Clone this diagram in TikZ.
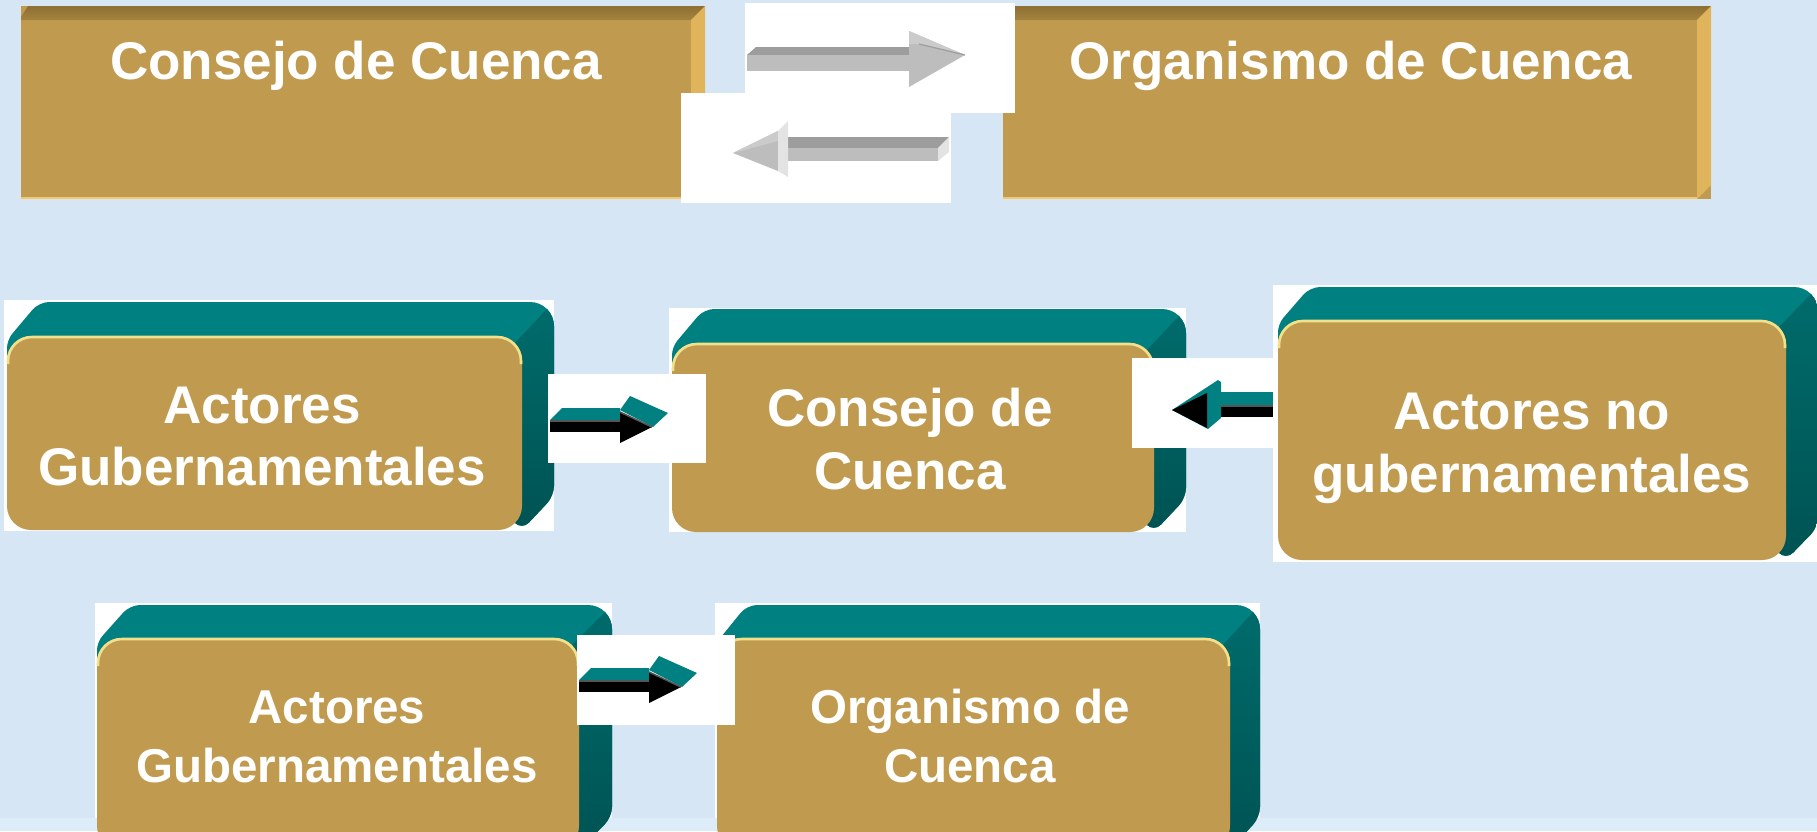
\documentclass[tikz,border=0pt]{standalone}
\usepackage{fontspec}
\setmainfont{Liberation Sans}
\definecolor{bgblue}{HTML}{D6E6F5}
\definecolor{bgstrip}{HTML}{DCEDF9}
\definecolor{gold}{HTML}{C09B4F}
\definecolor{goldtopa}{HTML}{8E6F34}
\definecolor{goldtopb}{HTML}{A5843F}
\definecolor{goldright}{HTML}{E0B45A}
\definecolor{goldbottom}{HTML}{F3C96E}
\definecolor{tealtop}{HTML}{008080}
\definecolor{tealsidea}{HTML}{006B6B}
\definecolor{tealsideb}{HTML}{005252}
\definecolor{faceedge}{HTML}{F2E08A}
\definecolor{edgegrey}{HTML}{555555}
\definecolor{gdark}{HTML}{9D9D9D}
\definecolor{gmid}{HTML}{BDBDBD}
\definecolor{gsoft}{HTML}{CBCBCB}
\definecolor{glight}{HTML}{E3E3E3}
\tikzset{
  topface/.style={fill=gold, inner sep=0pt, draw=none},
  facebox/.style={fill=gold, inner sep=0pt, draw=none, rounded corners=12pt},
  whitepatch/.style={fill=white},
  lbl/.style={text=white, inner sep=0pt, anchor=base, font=\bfseries\fontsize{26.5}{31}\selectfont},
  lblsmall/.style={text=white, inner sep=0pt, anchor=base, font=\bfseries\fontsize{23.75}{29}\selectfont}
}
% flat bevelled box: name, x1, y1, x2, y2
\newcommand{\topbox}[5]{%
  \pgfmathsetmacro{\bxw}{(#4-#2)*0.5}\pgfmathsetmacro{\bxh}{(#5-#3)*0.5}%
  \node[topface, minimum width=\bxw pt, minimum height=\bxh pt] (#1) at ({(#2+#4)/2},{(#3+#5)/2}) {};
  \shade[top color=goldtopa, bottom color=goldtopb] (#2+7,#3) -- (#4,#3) -- (#4-14,#3+14) -- (#2,#3+14) -- (#2,#3+11) -- cycle;
  \fill[goldright] (#4-14,#3+14) -- (#4,#3) -- (#4,#5-14) -- (#4-14,#5) -- cycle;
  \draw[goldbottom, line width=1pt] (#2,#5-1) -- (#4-14,#5-1);
}
% extruded rounded box: name, fx1, fy1, fx2, fy2, dx, dy
\newcommand{\tdbox}[7]{%
  \begin{scope}
    \clip (#2+30,#3+40) [sharp corners] -- (#2,#3+40) [rounded corners=4pt] -- (#2,#3+4) [rounded corners=5pt] -- (#2+#6,#3-#7) [rounded corners=12pt] -- (#4+#6,#3-#7) [rounded corners=5pt] -- (#4+#6,#5-#7) [rounded corners=5pt] -- (#4,#5) [sharp corners] -- (#4-30,#5-30) -- cycle;
    \fill[tealtop] (#2-5,#3-#7-5) rectangle (#4+#6+5,#5+5);
    \shade[top color=tealsidea, bottom color=tealsideb] (#4-7,#3+7) -- (#4+#6-7,#3-#7+7) -- (#4+#6+5,#3-#7+7) -- (#4+#6+5,#5+5) -- (#4-7,#5+5) -- cycle;
  \end{scope}
  \pgfmathsetmacro{\bxw}{(#4-#2)*0.5}\pgfmathsetmacro{\bxh}{(#5-#3)*0.5}%
  \node[facebox, minimum width=\bxw pt, minimum height=\bxh pt] (#1) at ({(#2+#4)/2},{(#3+#5)/2}) {};
  \draw[faceedge, line width=1.3pt, rounded corners=12pt] (#2+1,#3+28) -- (#2+1,#3+1) -- (#4-1,#3+1) -- (#4-1,#3+28);
}
% small teal 3D arrow pointing right, origin = bottom-left of shaft
\newcommand{\tealarrowright}{%
  \fill[tealtop] (0,-12) -- (12,-24) -- (70,-24) -- (70,-12) -- cycle;
  \fill[black] (0,-12) rectangle (70,0);
  \draw[edgegrey, line width=1.2pt] (0,-11) -- (70,-11);
  \fill[tealtop] (70,-22) -- (80,-36) -- (118,-19) -- (103,-5) -- cycle;
  \fill[black] (70,-20) -- (70,11) -- (102,-5) -- cycle;
  \draw[edgegrey, line width=0.8pt] (70,-20) -- (102,-5);
}
\begin{document}
\begin{tikzpicture}[x=0.5pt, y=-0.5pt]
\useasboundingbox (0,0) rectangle (1817,831);
\clip (0,0) rectangle (1817,831);
\fill[bgblue] (0,0) rectangle (1817,831);
\fill[bgstrip] (0,818) rectangle (1817,831);

% ---------- top row ----------
\topbox{tl}{21}{6}{705}{199}
\topbox{tr}{1003}{6}{1711}{199}

% upper grey arrow (to the right)
\fill[whitepatch] (745,3) rectangle (1015,113);
\coordinate (ga) at (747,71);
\begin{scope}[shift={(ga)}]
  \fill[gdark] (0,-16) -- (9,-24) -- (162,-24) -- (162,-16) -- cycle;
  \fill[gmid] (0,-16) rectangle (162,0);
  \fill[gmid] (162,-40) -- (162,16) -- (218,-16) -- cycle;
  \fill[gsoft] (162,-40) -- (218,-16) -- (172,-27) -- (162,-27) -- cycle;
  \draw[gdark, line width=0.6pt] (172,-27) -- (218,-16);
\end{scope}

% lower grey arrow (to the left)
\fill[whitepatch] (681,93) rectangle (951,203);
\coordinate (gb) at (949,161);
\begin{scope}[shift={(gb)}]
  \fill[gdark] (-161,-24) -- (0,-24) -- (-11,-13) -- (-161,-13) -- cycle;
  \fill[gmid] (-161,-13) rectangle (-11,0);
  \fill[glight] (-11,-13) -- (0,-24) -- (0,-9) -- (-11,0) -- cycle;
  \fill[gmid] (-216,-8) -- (-171,-30) -- (-171,10) -- cycle;
  \fill[gsoft] (-216,-8) -- (-171,-30) -- (-171,-20) -- cycle;
  \fill[glight] (-171,-30) -- (-161,-40) -- (-161,16) -- (-171,10) -- cycle;
\end{scope}

% ---------- middle row ----------
\fill[whitepatch] (4,300) rectangle (554,531);
\tdbox{ag}{7}{336}{522}{530}{32}{34}
\fill[whitepatch] (669,308) rectangle (1186,532);
\tdbox{cc}{672}{343}{1154}{532}{32}{34}

\fill[whitepatch] (548,374) rectangle (706,463);
\coordinate (ta) at (550,432);
\begin{scope}[shift={(ta)}]\tealarrowright\end{scope}

\fill[whitepatch] (1132,358) rectangle (1273,448);
\coordinate (tb) at (1273,417);
\begin{scope}[shift={(tb)}]
  \fill[tealtop] (-53,-25) rectangle (0,-12);
  \fill[black] (-70,-12) rectangle (0,0);
  \draw[edgegrey, line width=1.2pt] (-70,-11) -- (0,-11);
  \fill[tealtop] (-101,-7) -- (-55,-37) -- (-52,-35) -- (-52,1) -- (-65,12) -- cycle;
  \fill[black] (-101,-7) -- (-66,-24) -- (-66,11) -- cycle;
\end{scope}

\fill[whitepatch] (1273,285) rectangle (1817,562);
\tdbox{ang}{1278}{320}{1786}{560}{32}{33}

% ---------- bottom row ----------
\fill[whitepatch] (95,603) rectangle (612,818);
\tdbox{ag2}{97}{638}{579}{850}{33}{33}
\fill[whitepatch] (715,603) rectangle (1260,818);
\tdbox{oc}{717}{638}{1230}{850}{30}{33}

\fill[whitepatch] (577,635) rectangle (735,725);
\coordinate (tc) at (579,692);
\begin{scope}[shift={(tc)}]\tealarrowright\end{scope}

% ---------- texts ----------
\node[lbl] (ttl) at (356,79) {Consejo de Cuenca};
\node[lbl] (ttr) at (1351,79) {Organismo de Cuenca};
\node[lbl] (t1a) at (262,423) {Actores};
\node[lbl] (t1b) at (262,485) {Gubernamentales};
\node[lbl] (t2a) at (910,426) {Consejo de};
\node[lbl] (t2b) at (910,489) {Cuenca};
\node[lbl] (t3a) at (1532,429) {Actores no};
\node[lbl] (t3b) at (1532,492) {gubernamentales};
\node[lblsmall] (t4a) at (337,723) {Actores};
\node[lblsmall] (t4b) at (337,782) {Gubernamentales};
\node[lblsmall] (t5a) at (970,723) {Organismo de};
\node[lblsmall] (t5b) at (970,782) {Cuenca};
\end{tikzpicture}
\end{document}
